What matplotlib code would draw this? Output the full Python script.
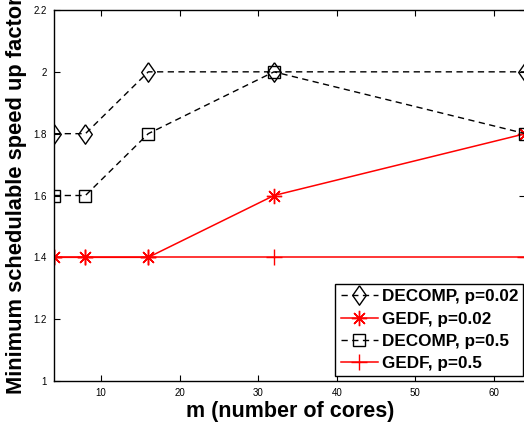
import matplotlib.pyplot as plt

plt.rcParams['font.family'] = ['Liberation Sans', 'DejaVu Sans']

cores = [4, 8, 16, 32, 64]
decomp_002 = [1.8, 1.8, 2.0, 2.0, 2.0]
gedf_002 = [1.4, 1.4, 1.4, 1.6, 1.8]
decomp_05 = [1.6, 1.6, 1.8, 2.0, 1.8]
gedf_05 = [1.4, 1.4, 1.4, 1.4, 1.4]

xticks = [10, 20, 30, 40, 50, 60]
yticks = [1, 1.2, 1.4, 1.6, 1.8, 2, 2.2]
ytick_labels = ['1', '1.2', '1.4', '1.6', '1.8', '2', '2.2']

fig = plt.figure(figsize=(5.24, 4.25), dpi=100)
ax = fig.add_axes([54 / 524, 44 / 425, 471.4 / 524, 371 / 425])

# matlab style tall diamond
diamond = [(0, 1), (0.7, 0), (0, -1), (-0.7, 0), (0, 1)]

ax.plot(cores, decomp_002, color='black', linestyle='--', dashes=(4.5, 3.2), linewidth=1,
        marker=diamond, markersize=14, markerfacecolor='none', markeredgecolor='black',
        markeredgewidth=1, label='DECOMP, p=0.02')
ax.plot(cores, gedf_002, color='red', linestyle='-', linewidth=1.1,
        marker=(8, 2, 0), markersize=11, markeredgecolor='red', markeredgewidth=1,
        label='GEDF, p=0.02')
ax.plot(cores, decomp_05, color='black', linestyle='--', dashes=(4.5, 3.2), linewidth=1,
        marker='s', markersize=8, markerfacecolor='none', markeredgecolor='black',
        markeredgewidth=1, label='DECOMP, p=0.5')
ax.plot(cores, gedf_05, color='red', linestyle='-', linewidth=1.1,
        marker='+', markersize=11, markeredgecolor='red', markeredgewidth=1,
        label='GEDF, p=0.5')

ax.set_xlim(4, 64)
ax.set_ylim(1, 2.2)
ax.set_xticks(xticks)
ax.set_yticks(yticks)
ax.set_yticklabels(ytick_labels)
ax.tick_params(direction='in', length=4, width=0.8, labelsize=7, top=True, right=True, pad=5)
for s in ax.spines.values():
    s.set_linewidth(1)

ax.set_xlabel('m (number of cores)', fontsize=15.5, fontweight='bold', labelpad=2)
ax.set_ylabel('Minimum schedulable speed up factor', fontsize=15.75, fontweight='bold', labelpad=5)

leg = ax.legend(loc='lower right', bbox_to_anchor=(0.995, 0.0135), borderaxespad=0,
                fancybox=False, edgecolor='black', framealpha=1,
                prop={'size': 12.3, 'weight': 'bold'}, handlelength=2.2,
                handletextpad=0.2, labelspacing=0.42, borderpad=0.3)
leg.get_frame().set_linewidth(1)

fig.savefig('out.png', dpi=100)
